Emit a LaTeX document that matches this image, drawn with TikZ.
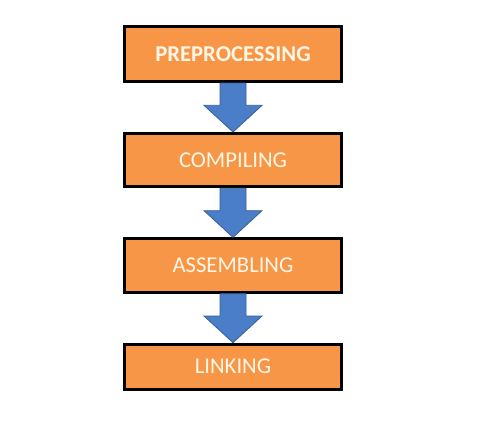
\documentclass[tikz,border=0pt]{standalone}
\usepackage{fontspec}
\setmainfont{Carlito}
\usetikzlibrary{positioning,calc}
\definecolor{stageorange}{HTML}{F79646}
\definecolor{flowblue}{HTML}{4A7EC8}
\definecolor{stagetext}{HTML}{FFF6E6}
\newcommand{\flowarrow}[2]{%
  \filldraw[flow] let \p1=(#1.south), \p2=(#2.north) in
    (\x1-9.75pt,\y1) -- (\x1+9.75pt,\y1) -- (\x1+9.75pt,\y2+20pt)
    -- (\x1+21.75pt,\y2+20pt) -- (\x1,\y2) -- (\x1-21.75pt,\y2+20pt)
    -- (\x1-9.75pt,\y2+20pt) -- cycle;}
\tikzset{
            stage/.style={draw=black,line width=2.25pt,fill=stageorange,text=stagetext,
                          minimum width=162.75pt,minimum height=40pt,inner sep=0pt,
                          font=\fontsize{17}{20}\selectfont},
            flow/.style={fill=flowblue,draw=flowblue!75!black,line width=0.6pt}
        }

\begin{document}
\begin{tikzpicture}[
                    x=0.75pt,y=-0.75pt,
                    node distance=36.75pt
                    ]
                \useasboundingbox (0,0) rectangle (482,439);
                \node[stage,minimum height=41.25pt] (pre) at (233,54) {\textbf{PREPROCESSING}};
                \node[stage,below=of pre] (comp) {COMPILING};
                \node[stage,below=of comp] (asm) {ASSEMBLING};
                \node[stage,below=of asm,minimum height=33.75pt] (link) {LINKING};
                \flowarrow{pre}{comp}
                \flowarrow{comp}{asm}
                \flowarrow{asm}{link}
            \end{tikzpicture}
\end{document}
